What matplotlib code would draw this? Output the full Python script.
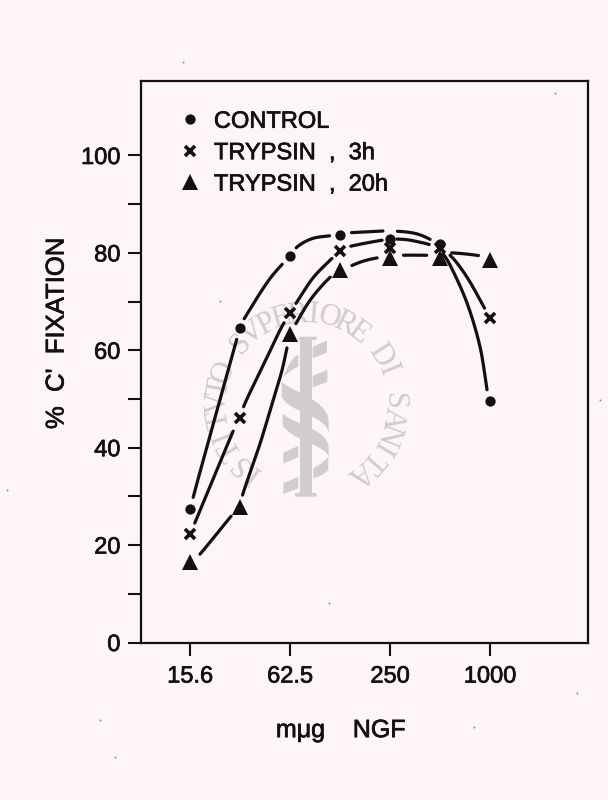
import numpy as np
import matplotlib
matplotlib.use("Agg")
import matplotlib.pyplot as plt
import matplotlib.patheffects as pe
from matplotlib.patches import Polygon, PathPatch
from matplotlib.path import Path
from matplotlib.ticker import FixedLocator

# ---- data ----
dose_labels = ["15.6", "62.5", "250", "1000"]
dose_ticks = [0, 2, 4, 6]
dose_index = [0, 1, 2, 3, 4, 5, 6]
control = [27.4, 64.6, 79.4, 83.7, 82.8, 81.8, 49.6]
trypsin_3h = [22.3, 46.0, 67.7, 80.4, 81.0, 81.0, 66.6]
trypsin_20h = [16.5, 27.8, 63.3, 76.5, 79.0, 79.0, 78.5]
major_y = [0, 20, 40, 60, 80, 100]
minor_y = [10, 30, 50, 70, 90]

# hand-drawn curves
control_curve_x = [0, 0.06, 0.76, 1, 1.1, 1.58, 2, 2.16, 2.46, 2.86, 3, 3.5, 4, 4.5, 4.86, 5.0, 5.2, 5.54, 5.8, 5.94, 6]
control_curve_y = [26.0, 29.8, 55.9, 64.6, 66.8, 74.5, 79.4, 81.4, 83.0, 83.6, 84.0, 84.3, 84.5, 84.0, 82.4, 80.6, 77.5, 69.7, 60.7, 51.9, 49.6]
t3_curve_x = [0, 0.12, 0.86, 1, 1.1, 1.54, 1.8, 2, 2.16, 2.46, 2.8, 3, 3.14, 3.84, 4.24, 4.6, 4.86, 5.2, 5.54, 5.86, 6]
t3_curve_y = [22.3, 25.2, 43.4, 46.0, 49.2, 58.6, 64.2, 67.7, 70.3, 74.9, 78.5, 80.4, 81.2, 82.6, 82.8, 82.2, 81.4, 79.5, 75.0, 69.2, 66.6]
t20_curve_x = [0, 0.14, 0.46, 0.8, 1, 1.06, 1.4, 1.66, 1.84, 2, 2.1, 2.4, 2.74, 3, 3.16, 3.46, 3.76, 4, 4.2, 4.8, 5, 5.2, 5.8, 6]
t20_curve_y = [16.5, 17.5, 21.4, 25.7, 27.8, 30.7, 40.9, 49.8, 56.0, 63.3, 65.2, 70.3, 74.4, 76.5, 77.1, 78.3, 79.0, 79.1, 79.5, 79.5, 79.3, 80.0, 79.4, 78.5]

series_labels = ["CONTROL", "TRYPSIN  ,  3h", "TRYPSIN  ,  20h"]
x_label = "mμg    NGF"
y_label = "%  C'  FIXATION"
seal_text = "ISTITVTO SVPERIORE DI SANITA"

PAPER = "#FDF5FA"
INK = "#111012"
SEAL = "#D0CCCF"
W, H = 608, 800

plt.rcParams["font.family"] = ["Liberation Sans", "DejaVu Sans"]
fig = plt.figure(figsize=(W / 100, H / 100), dpi=100, facecolor=PAPER)

# ---- backdrop: watermark seal and paper specks, in pixel coordinates ----
bg = fig.add_axes([0, 0, 1, 1], zorder=0)
bg.set_xlim(0, W)
bg.set_ylim(H, 0)
bg.axis("off")


def z(X, Y):
    return (230 + X / 3, 300 + Y / 3)


def poly(points):
    bg.add_patch(Polygon([z(*p) for p in points], closed=True, fc=SEAL, ec="none"))


def band(top, bottom):
    verts = [z(*p) for p in top + bottom]
    codes = [Path.MOVETO, Path.CURVE4, Path.CURVE4, Path.CURVE4,
             Path.LINETO, Path.CURVE4, Path.CURVE4, Path.CURVE4]
    bg.add_patch(PathPatch(Path(verts, codes), fc=SEAL, ec="none"))


poly([(208, 110), (260, 110), (260, 120), (246, 120), (246, 578), (260, 580), (260, 590),
      (195, 590), (195, 580), (210, 578), (210, 120), (204, 120)])
poly([(248, 140), (291, 122), (291, 158), (248, 174)])
poly([(248, 228), (292, 210), (292, 246), (248, 262)])
poly([(160, 458), (205, 438), (205, 472), (160, 490)])
poly([(160, 550), (205, 530), (205, 565), (160, 582)])
band([(160, 232), (185, 165), (205, 165), (205, 165)], [(205, 200), (190, 205), (165, 225), (160, 232)])
band([(250, 505), (280, 490), (295, 470), (295, 470)], [(295, 510), (280, 525), (265, 530), (250, 535)])
band([(155, 245), (190, 280), (300, 300), (296, 370)], [(296, 400), (290, 345), (180, 340), (155, 290)])
band([(158, 340), (190, 375), (300, 385), (296, 450)], [(296, 470), (280, 430), (180, 420), (158, 375)])

cx, cy, r = 306, 403, 88
angles = np.linspace(-143, 142, len(seal_text))
for ch, a in zip(seal_text, angles):
    t = np.deg2rad(a)
    bg.text(cx + r * np.sin(t), cy - r * np.cos(t), ch, rotation=-a, rotation_mode="anchor",
            ha="center", va="center", fontsize=22, family="Liberation Serif", color="#CFCBCE")

speck_x = [555, 220, 329, 474, 115, 577, 7, 183, 100, 600]
speck_y = [93, 301, 603, 727, 757, 693, 490, 62, 720, 400]
bg.scatter(speck_x, speck_y, s=2, color="#8C888B", linewidths=0)

# ---- chart ----
ax = fig.add_axes([140.7 / W, 1 - 642.5 / H, (588 - 140.7) / W, (642.5 - 80.5) / H], zorder=2)
ax.patch.set_alpha(0)
ax.set_xlim(-0.99, 7.96)
ax.set_ylim(0, 115.4)
for s in ax.spines.values():
    s.set_linewidth(1.6)
    s.set_color(INK)


def smooth(xs, ys, n=14):
    """Catmull-Rom stroke through the points read along a curve."""
    p = np.column_stack([xs, ys]).astype(float)
    p = np.vstack([2 * p[0] - p[1], p, 2 * p[-1] - p[-2]])
    out = []
    for i in range(1, len(p) - 2):
        u = np.linspace(0, 1, n, endpoint=False)[:, None]
        out.append(0.5 * (2 * p[i] + (p[i + 1] - p[i - 1]) * u
                          + (2 * p[i - 1] - 5 * p[i] + 4 * p[i + 1] - p[i + 2]) * u ** 2
                          + (3 * p[i] - p[i - 1] - 3 * p[i + 1] + p[i + 2]) * u ** 3))
    out.append(p[-2][None, :])
    return np.vstack(out)


def draw_curve(xs, ys, mx, my, gap_px):
    c = smooth(xs, ys)
    d = ax.transData.transform(c)
    m = ax.transData.transform(np.column_stack([mx, my]))
    dist = np.min(np.hypot(d[:, None, 0] - m[:, 0], d[:, None, 1] - m[:, 1]), axis=1)
    yy = c[:, 1].copy()
    yy[dist < gap_px] = np.nan
    ax.plot(c[:, 0], yy, color=INK, lw=2.3, solid_capstyle="round", zorder=3)


draw_curve(control_curve_x, control_curve_y, dose_index, control, 10)
draw_curve(t3_curve_x, t3_curve_y, dose_index, trypsin_3h, 11)
draw_curve(t20_curve_x, t20_curve_y, dose_index, trypsin_20h, 12)

h1, = ax.plot(dose_index, control, "o", color=INK, ms=7.4, mew=0, zorder=4, label=series_labels[0])
h2, = ax.plot(dose_index, trypsin_3h, "x", color=INK, ms=7.5, mew=2.6, zorder=4, label=series_labels[1])
h3, = ax.plot(dose_index, trypsin_20h, "^", color=INK, ms=11, mew=0, zorder=4, label=series_labels[2])

ax.set_xticks(dose_ticks, dose_labels)
ax.set_yticks(major_y)
ax.yaxis.set_minor_locator(FixedLocator(minor_y))
ax.tick_params(axis="both", which="both", length=9.6, width=1.5, color=INK, labelcolor=INK, labelsize=17)
ax.tick_params(axis="y", which="major", pad=5)
ax.tick_params(axis="x", which="major", pad=7)

ink_fx = [pe.withStroke(linewidth=0.5, foreground=INK)]
ax.set_xlabel(x_label, fontsize=18, color=INK, labelpad=22, path_effects=ink_fx, x=0.447)
ax.set_ylabel(y_label, fontsize=18.5, color=INK, labelpad=9, path_effects=ink_fx, y=0.55)
for lab in ax.get_xticklabels() + ax.get_yticklabels():
    lab.set_path_effects(ink_fx)

leg = ax.legend(handles=[h1, h2, h3], loc="upper left", bbox_to_anchor=(0.037, 0.984), frameon=False,
                fontsize=17, labelspacing=0.40, handlelength=1.0, handletextpad=0.5, numpoints=1,
                borderpad=0.4, labelcolor=INK)
for t in leg.get_texts():
    t.set_path_effects(ink_fx)

fig.savefig("out.png", dpi=100, facecolor=PAPER)
